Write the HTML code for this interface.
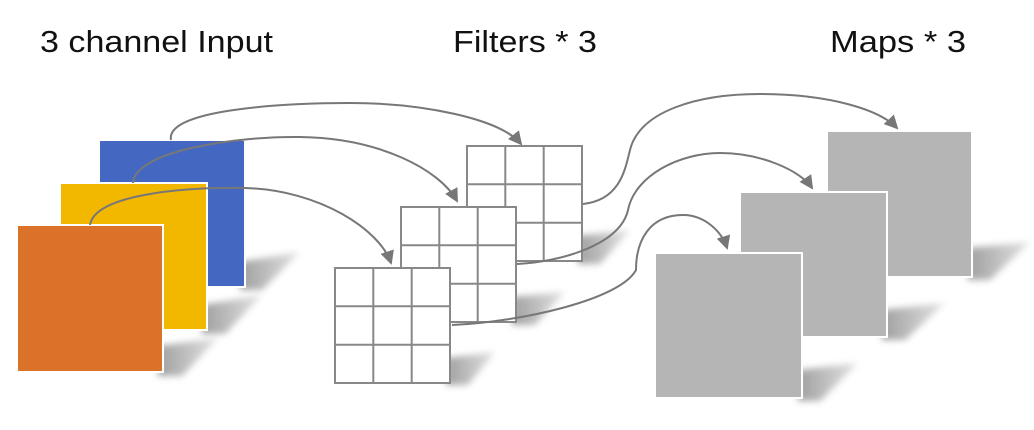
<!DOCTYPE html>
<html><head><meta charset="utf-8"><style>
html,body{margin:0;padding:0;background:#fff;width:1034px;height:430px;overflow:hidden}
text{font-family:"Liberation Sans",sans-serif;font-size:31px;fill:#111}
</style></head><body>
<svg width="1034" height="430" viewBox="0 0 1034 430" xmlns="http://www.w3.org/2000/svg">
<defs>
<filter id="b" x="-50%" y="-50%" width="200%" height="200%"><feGaussianBlur stdDeviation="3.5"/></filter>
<linearGradient id="sg" x1="0" y1="0" x2="1" y2="0"><stop offset="0" stop-color="#888"/><stop offset="1" stop-color="#ddd"/></linearGradient>
<marker id="ar" markerWidth="14" markerHeight="14" refX="12" refY="7" orient="auto" markerUnits="userSpaceOnUse" viewBox="0 0 14 14">
<path d="M0,0 L14,7 L0,14 z" fill="#777"/></marker>
<g id="grid">
<rect x="0" y="0" width="115" height="115" fill="#fff" stroke="#888" stroke-width="2"/>
<path d="M38.3,0V115M76.7,0V115M0,38.3H115M0,76.7H115" stroke="#888" stroke-width="2"/>
</g>
</defs>
<text x="40" y="52" textLength="233" lengthAdjust="spacingAndGlyphs">3 channel Input</text>
<text x="453" y="52" textLength="144" lengthAdjust="spacingAndGlyphs">Filters * 3</text>
<text x="830" y="52" textLength="136" lengthAdjust="spacingAndGlyphs">Maps * 3</text>

<!-- shadows -->
<g fill="url(#sg)" opacity="0.8" filter="url(#b)">
<polygon points="240,262 300,252 262,290 240,290"/>
<polygon points="202,305 262,295 225,334 202,334"/>
<polygon points="158,346 218,338 182,376 158,376"/>
<polygon points="578,236 630,230 600,264 578,264"/>
<polygon points="512,297 565,292 535,325 512,325"/>
<polygon points="446,358 495,352 468,385 446,385"/>
<polygon points="968,248 1030,242 990,280 968,280"/>
<polygon points="882,310 945,303 905,340 882,340"/>
<polygon points="798,370 858,363 820,401 798,401"/>
</g>

<!-- input squares -->
<rect x="99" y="140" width="146" height="147" fill="#4468c2" stroke="#fff" stroke-width="2"/>
<rect x="60" y="183" width="147" height="147" fill="#f2b800" stroke="#fff" stroke-width="2"/>
<rect x="17" y="225" width="146" height="147" fill="#db7229" stroke="#fff" stroke-width="2"/>

<!-- grids -->
<use href="#grid" x="467" y="146"/>
<use href="#grid" x="401" y="207"/>
<use href="#grid" x="335" y="268"/>

<!-- maps -->
<rect x="827" y="131" width="145" height="146" fill="#b5b5b5" stroke="#fff" stroke-width="2"/>
<rect x="740" y="192" width="147" height="145" fill="#b5b5b5" stroke="#fff" stroke-width="2"/>
<rect x="655" y="253" width="147" height="145" fill="#b5b5b5" stroke="#fff" stroke-width="2"/>

<!-- arrows -->
<g fill="none" stroke="#777" stroke-width="2" marker-end="url(#ar)">
<path d="M171,140 C165,110 280,103 350,103 C420,103 500,118 521,144"/>
<path d="M133,183 C135,150 240,136 300,137 C380,138 440,170 457,201"/>
<path d="M90,225 C95,195 180,187 245,188 C320,190 380,230 391,263"/>
<path d="M583,204 C620,200 625,170 630,150 C640,110 700,94 760,94 C830,94 880,110 897,128"/>
<path d="M517,264 C560,262 620,245 628,210 C635,175 680,153 720,153 C760,153 800,170 812,188"/>
<path d="M452,325 C520,322 620,300 636,270 C636,240 650,215 683,215 C705,215 722,232 727,248"/>
</g>
</svg>
</body></html>
